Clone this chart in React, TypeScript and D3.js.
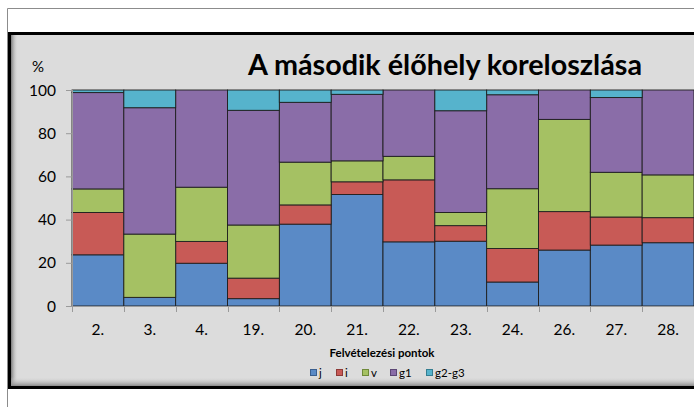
import React from "react";
import * as d3 from "d3";

const categories = ["2.", "3.", "4.", "19.", "20.", "21.", "22.", "23.", "24.", "26.", "27.", "28."];
const seriesNames = ["j", "i", "v", "g1", "g2-g3"];
const jValues = [23.7, 4.0, 19.8, 3.4, 37.9, 51.6, 29.7, 30.0, 11.1, 25.9, 28.2, 29.3];
const iValues = [19.6, 0, 10.1, 9.5, 8.9, 5.9, 28.7, 7.2, 15.5, 17.8, 13.0, 11.6];
const vValues = [10.9, 29.3, 25.1, 24.6, 19.8, 9.7, 10.9, 6.1, 27.7, 42.7, 20.7, 19.8];
const g1Values = [44.6, 58.5, 45.0, 53.1, 27.7, 30.8, 30.7, 47.1, 43.5, 13.6, 34.6, 39.3];
const g23Values = [1.2, 8.2, 0, 9.4, 5.7, 2.0, 0, 9.6, 2.2, 0, 3.5, 0];
const yTicks = [0, 20, 40, 60, 80, 100];
const colors = ["#5A8AC6", "#C85A56", "#A5C163", "#8A6DA8", "#56B3CC"];
const strokeColors = ["#3A5F8F", "#8E3A37", "#6F8A3A", "#5C4775", "#357E91"];

const FONT = "Lato, 'Open Sans', sans-serif";

export default function App() {
  const W = 694, H = 407;
  const x0 = 72, x1 = 694, yTop = 90, yBot = 306;

  const rows = categories.map((c, k) => ({
    cat: c,
    j: jValues[k], i: iValues[k], v: vValues[k], g1: g1Values[k], "g2-g3": g23Values[k],
  }));
  const stack = d3.stack<any>().keys(seriesNames)(rows);

  const x = d3.scaleBand().domain(categories).range([x0, x1]).padding(0);
  const y = d3.scaleLinear().domain([0, 100]).range([yBot, yTop]);

  const legendItems = [
    { name: "j", x: 310 },
    { name: "i", x: 336 },
    { name: "v", x: 362 },
    { name: "g1", x: 390 },
    { name: "g2-g3", x: 426 },
  ];

  return (
    <svg width={W} height={H} style={{ position: "absolute", left: 0, top: 0, display: "block" }}>
      <defs>
        <linearGradient id="leftShade" x1="0" x2="1" y1="0" y2="0">
          <stop offset="0" stopColor="#7a7a7a" />
          <stop offset="1" stopColor="#dcdcdc" stopOpacity="0" />
        </linearGradient>
        <linearGradient id="bottomShade" x1="0" x2="0" y1="0" y2="1">
          <stop offset="0" stopColor="#dcdcdc" stopOpacity="0" />
          <stop offset="1" stopColor="#8a8a8a" />
        </linearGradient>
      </defs>
      <rect x={0} y={0} width={W} height={H} fill="#ffffff" />
      {/* outer thin border */}
      <line x1={7.5} x2={W} y1={8.5} y2={8.5} stroke="#8c8c8c" strokeWidth={1} />
      <line x1={7.5} x2={7.5} y1={8.5} y2={H} stroke="#8c8c8c" strokeWidth={1} />
      {/* chart background */}
      <rect x={8} y={32} width={W - 8} height={357} fill="#000000" />
      <rect x={11} y={35} width={W - 11} height={351} fill="#dcdcdc" />
      <rect x={11} y={35} width={7} height={351} fill="url(#leftShade)" />
      <rect x={11} y={377} width={W - 11} height={9} fill="url(#bottomShade)" />

      {/* title */}
      <text x={445} y={75} textAnchor="middle" fontFamily={FONT} fontWeight="bold" fontSize={28}
        textLength={394} lengthAdjust="spacingAndGlyphs" fill="#000">
        A második élőhely koreloszlása
      </text>
      <text x={38} y={72} textAnchor="middle" fontFamily={FONT} fontSize={15} fill="#000">%</text>

      {/* bars */}
      {stack.map((layer, si) => (
        <g key={layer.key}>
          {layer.map((d, k) => {
            const h = y(d[0]) - y(d[1]);
            if (h <= 0) return null;
            return (
              <rect
                key={k}
                x={x(categories[k])!}
                y={y(d[1])}
                width={x.bandwidth()}
                height={h}
                fill={colors[si]}
                stroke="#1e1e1e"
                strokeWidth={0.9}
              />
            );
          })}
        </g>
      ))}

      {/* y axis */}
      <line x1={x0 + 0.5} x2={x0 + 0.5} y1={yTop} y2={yBot} stroke="#9a9a9a" />
      {yTicks.map((t) => (
        <g key={t}>
          <line x1={x0 - 6} x2={x0} y1={y(t) + 0.5} y2={y(t) + 0.5} stroke="#9a9a9a" />
          <text x={56} y={y(t) + 5.5} textAnchor="end" fontFamily={FONT} fontSize={15.5} fill="#000">
            {t}
          </text>
        </g>
      ))}

      {/* x axis */}
      <line x1={x0} x2={x1} y1={yBot + 0.5} y2={yBot + 0.5} stroke="#9a9a9a" />
      {categories.map((c, k) => (
        <g key={c}>
          <line x1={Math.round(x(c)!) + 0.5} x2={Math.round(x(c)!) + 0.5} y1={yBot} y2={yBot + 6} stroke="#9a9a9a" />
          <text x={x(c)! + x.bandwidth() / 2} y={334.5} textAnchor="middle" fontFamily={FONT} fontSize={15.5} fill="#000">
            {c}
          </text>
        </g>
      ))}

      <text x={382} y={357} textAnchor="middle" fontFamily={FONT} fontWeight="bold" fontSize={11.5} fill="#000">
        Felvételezési pontok
      </text>

      {/* legend */}
      {legendItems.map((it, k) => (
        <g key={it.name}>
          <rect x={it.x + 0.5} y={369.5} width={6} height={6} fill={colors[k]} stroke={strokeColors[k]} />
          <text x={it.x + 9} y={376.5} fontFamily={FONT} fontSize={11.5} fill="#000">{it.name}</text>
        </g>
      ))}
    </svg>
  );
}
